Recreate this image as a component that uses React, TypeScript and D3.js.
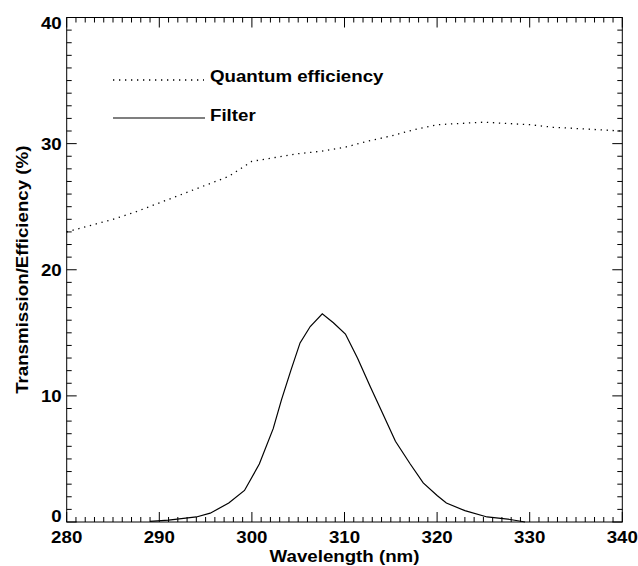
import React from "react";
import * as d3 from "d3";

const qeWavelength = [280, 282.5, 285, 287.5, 290, 292.5, 295, 297.5, 300, 302.5, 305, 307.5, 310, 312.5, 315, 317.5, 320, 322.5, 325, 327.5, 330, 332.5, 335, 337.5, 340];
const qeValues = [23.0, 23.5, 24.0, 24.6, 25.3, 26.0, 26.7, 27.4, 28.6, 28.9, 29.2, 29.4, 29.7, 30.2, 30.6, 31.1, 31.5, 31.6, 31.7, 31.6, 31.5, 31.3, 31.2, 31.1, 31.0];

const filterWavelength = [289, 291, 294, 295.5, 297.5, 299.2, 300.8, 302.3, 303.2, 304.2, 305.2, 306.3, 307.6, 308.8, 310.1, 311.4, 312.8, 314.0, 315.5, 317.1, 318.5, 320.0, 321.0, 323.0, 325.4, 327.9, 329.5];
const filterValues = [0.05, 0.15, 0.4, 0.7, 1.5, 2.5, 4.6, 7.4, 9.7, 12.0, 14.2, 15.5, 16.5, 15.8, 14.9, 13.0, 10.7, 8.8, 6.4, 4.6, 3.1, 2.1, 1.5, 0.9, 0.4, 0.2, 0.0];

const xMajorTicks = [280, 290, 300, 310, 320, 330, 340];
const yMajorTicks = [0, 10, 20, 30, 40];
const legendLabels = ["Quantum efficiency", "Filter"];

const W = 638;
const H = 566;
const FONT = "'Liberation Sans', Arial, Helvetica, sans-serif";
const SX = 1.1;

function T({ x, y, anchor = "start", rotate = 0, children }: { x: number; y: number; anchor?: string; rotate?: number; children: React.ReactNode }) {
  return (
    <text
      transform={`translate(${x},${y}) rotate(${rotate}) scale(${SX},1)`}
      textAnchor={anchor}
      fontSize={17}
      fontWeight="bold"
      fill="#000"
    >
      {children}
    </text>
  );
}

export default function App() {
  const x = d3.scaleLinear().domain([280, 340]).range([66.7, 622.3]);
  const y = d3.scaleLinear().domain([0, 40]).range([522, 17.5]);
  const [x0, x1] = x.range();
  const [y0, y1] = y.range();

  const line = d3.line<[number, number]>().x((d) => x(d[0])).y((d) => y(d[1]));
  const qePath = line(qeWavelength.map((w, i) => [w, qeValues[i]]) as [number, number][]) || "";
  const filterPath = line(filterWavelength.map((w, i) => [w, filterValues[i]]) as [number, number][]) || "";

  const xMinor = x.ticks(60);
  const yMinor = y.ticks(40);
  const major = 10;
  const minor = 5;

  const yLabelBaseline = (t: number) => (t === 40 ? y1 + 11 : t === 0 ? y0 : y(t) + 6.5);

  return (
    <svg width={W} height={H} style={{ position: "absolute", left: 0, top: 0, background: "#fff" }} fontFamily={FONT}>
      <rect x={0} y={0} width={W} height={H} fill="#fff" />
      <rect x={x0} y={y1} width={x1 - x0} height={y0 - y1} fill="none" stroke="#000" strokeWidth={1} />
      {xMinor.map((t) => {
        const len = xMajorTicks.includes(t) ? major : minor;
        return (
          <g key={"xt" + t}>
            <line x1={x(t)} x2={x(t)} y1={y0} y2={y0 - len} stroke="#000" strokeWidth={1} />
            <line x1={x(t)} x2={x(t)} y1={y1} y2={y1 + len} stroke="#000" strokeWidth={1} />
          </g>
        );
      })}
      {yMinor.map((t) => {
        const len = yMajorTicks.includes(t) ? major : minor;
        return (
          <g key={"yt" + t}>
            <line x1={x0} x2={x0 + len} y1={y(t)} y2={y(t)} stroke="#000" strokeWidth={1} />
            <line x1={x1} x2={x1 - len} y1={y(t)} y2={y(t)} stroke="#000" strokeWidth={1} />
          </g>
        );
      })}
      {xMajorTicks.map((t) => (
        <T key={"xl" + t} x={x(t)} y={543} anchor="middle">{t}</T>
      ))}
      {yMajorTicks.map((t) => (
        <T key={"yl" + t} x={x0 - 5} y={yLabelBaseline(t)} anchor="end">{t}</T>
      ))}
      <T x={(x0 + x1) / 2} y={562} anchor="middle">Wavelength (nm)</T>
      <T x={28} y={(y0 + y1) / 2} anchor="middle" rotate={-90}>Transmission/Efficiency (%)</T>
      <path d={qePath} fill="none" stroke="#000" strokeWidth={1.3} strokeDasharray="1.3 4.7" />
      <path d={filterPath} fill="none" stroke="#000" strokeWidth={1.2} />
      <line x1={113} x2={204} y1={80} y2={80} stroke="#000" strokeWidth={1.3} strokeDasharray="1.3 4.7" />
      <T x={210} y={82}>{legendLabels[0]}</T>
      <line x1={113} x2={205} y1={118} y2={118} stroke="#000" strokeWidth={1.2} />
      <T x={210} y={120.5}>{legendLabels[1]}</T>
    </svg>
  );
}
